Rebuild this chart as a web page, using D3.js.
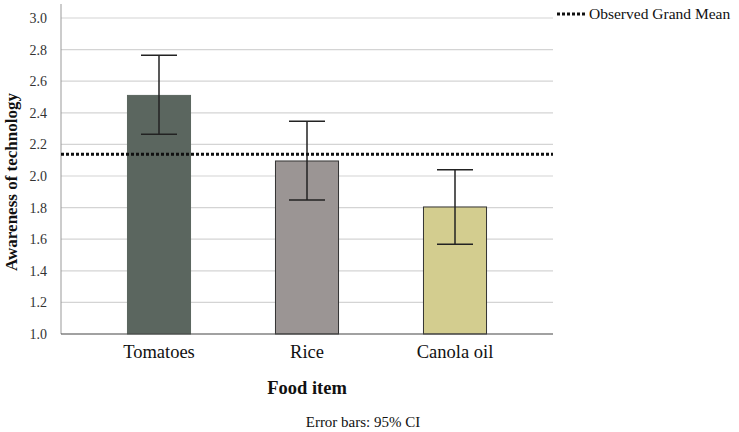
<!DOCTYPE html>
<html>
<head>
<meta charset="utf-8">
<script src="https://cdn.jsdelivr.net/npm/d3@7"></script>
<style>
    body { margin: 0; background: #fff; }
    svg text { font-family: "Liberation Serif", "Times New Roman", serif !important; fill: #111; }
</style>
</head>
<body>
<svg id="chart" width="739" height="432"></svg>
<script>
const categories = ["Tomatoes", "Rice", "Canola oil"];
const means = [2.51, 2.095, 1.804];
const ciLow = [2.264, 1.848, 1.568];
const ciHigh = [2.764, 2.346, 2.04];
const barColors = ["#5b665f", "#9b9594", "#d3cd8f"];
const yTicks = [1.0, 1.2, 1.4, 1.6, 1.8, 2.0, 2.2, 2.4, 2.6, 2.8, 3.0];
const grandMean = 2.137;

const serif = '"Liberation Serif", "Times New Roman", serif';
const svg = d3.select("#chart");
const plot = { left: 61, right: 553, top: 18, bottom: 334 };

const x = d3
    .scaleBand()
    .domain(categories)
    .range([85, 529])
    .paddingInner(0.574)
    .paddingOuter(0.287);

const y = d3.scaleLinear().domain([1, 3]).range([plot.bottom, plot.top]);

// grid lines
svg.append("g")
    .selectAll("line")
    .data(yTicks.slice(1))
    .join("line")
    .attr("x1", plot.left)
    .attr("x2", plot.right)
    .attr("y1", (d) => y(d))
    .attr("y2", (d) => y(d))
    .style("stroke", "#d4d4d4")
    .style("stroke-width", 1.2);

// y axis
const yAxis = d3.axisLeft(y).tickValues(yTicks).tickFormat(d3.format(".1f")).tickSize(0).tickPadding(14);
svg.append("g")
    .attr("transform", `translate(${plot.left}, 0)`)
    .call(yAxis)
    .attr("font-family", serif)
    .call((g) => g.select(".domain").remove())
    .call((g) =>
        g.selectAll("text")
            .style("font-family", serif)
            .style("font-size", "14px")
            .style("fill", "#333")
    );

svg.append("line")
    .attr("x1", plot.left)
    .attr("x2", plot.left)
    .attr("y1", 4)
    .attr("y2", plot.bottom)
    .style("stroke", "#999")
    .style("stroke-width", 1);

// bars
svg.append("g")
    .selectAll("rect")
    .data(categories)
    .join("rect")
    .attr("x", (d) => x(d))
    .attr("y", (d, i) => y(means[i]))
    .attr("width", x.bandwidth())
    .attr("height", (d, i) => y(1) - y(means[i]))
    .style("fill", (d, i) => barColors[i])
    .style("stroke", (d, i) => (i == 0 ? barColors[i] : "#333"))
    .style("stroke-width", 1);

// x axis baseline
svg.append("line")
    .attr("x1", plot.left)
    .attr("x2", plot.right)
    .attr("y1", plot.bottom)
    .attr("y2", plot.bottom)
    .style("stroke", "#444")
    .style("stroke-width", 1.2);

// error bars
const capHalf = 18;
const err = svg.append("g").style("stroke", "#222").style("stroke-width", 1.5);
categories.forEach((c, i) => {
    const cx = x(c) + x.bandwidth() / 2;
    err.append("line").attr("x1", cx).attr("x2", cx).attr("y1", y(ciHigh[i])).attr("y2", y(ciLow[i]));
    err.append("line").attr("x1", cx - capHalf).attr("x2", cx + capHalf).attr("y1", y(ciHigh[i])).attr("y2", y(ciHigh[i]));
    err.append("line").attr("x1", cx - capHalf).attr("x2", cx + capHalf).attr("y1", y(ciLow[i])).attr("y2", y(ciLow[i]));
});

// grand mean line
svg.append("line")
    .attr("x1", plot.left)
    .attr("x2", plot.right)
    .attr("y1", y(grandMean))
    .attr("y2", y(grandMean))
    .style("stroke", "#111")
    .style("stroke-width", 3)
    .style("stroke-dasharray", "3,2");

// x labels
svg.append("g")
    .selectAll("text")
    .data(categories)
    .join("text")
    .attr("x", (d) => x(d) + x.bandwidth() / 2)
    .attr("y", 358)
    .attr("text-anchor", "middle")
    .style("font-size", "18.5px")
    .text((d) => d);

svg.append("text")
    .attr("x", 307)
    .attr("y", 394)
    .attr("text-anchor", "middle")
    .style("font-size", "18.5px")
    .style("font-weight", "bold")
    .text("Food item");

svg.append("text")
    .attr("transform", "translate(17, 182) rotate(-90)")
    .attr("text-anchor", "middle")
    .style("font-size", "17px")
    .style("font-weight", "bold")
    .text("Awareness of technology");

svg.append("text")
    .attr("x", 363)
    .attr("y", 427)
    .attr("text-anchor", "middle")
    .style("font-size", "15px")
    .text("Error bars: 95% CI");

// legend
svg.append("line")
    .attr("x1", 557)
    .attr("x2", 587)
    .attr("y1", 14)
    .attr("y2", 14)
    .style("stroke", "#111")
    .style("stroke-width", 3)
    .style("stroke-dasharray", "3,2");

svg.append("text")
    .attr("x", 589)
    .attr("y", 19)
    .style("font-size", "15.5px")
    .text("Observed Grand Mean");
</script>
</body>
</html>
